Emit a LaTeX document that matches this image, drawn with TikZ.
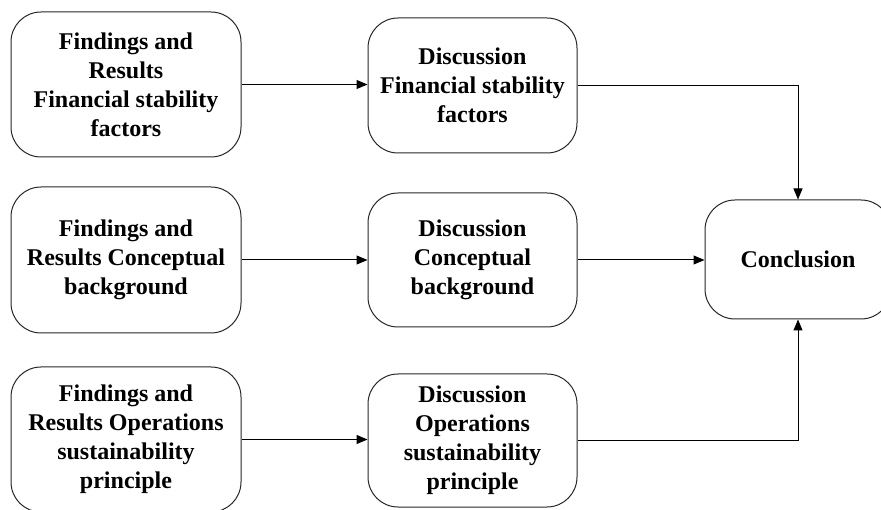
\documentclass[tikz,border=0pt]{standalone}
\usepackage{fontspec}
\setmainfont{Liberation Serif}
\usetikzlibrary{arrows.meta,calc}
\begin{document}
\begin{tikzpicture}[x=1pt,y=-1pt,
  box/.style={draw=black!85,line width=1pt,rounded corners=30pt,align=center,
    font=\fontsize{24}{29}\selectfont\bfseries,inner sep=0pt},
  conn/.style={draw=black,line width=1pt,-{Triangle[length=11pt,width=9pt]}}]
\useasboundingbox (0,0) rectangle (881,510);
\node[box,minimum width=230pt,minimum height=145pt] (L1) at (126,84.5) {Findings and\\Results\\Financial stability\\factors};
\node[box,minimum width=230pt,minimum height=146pt] (L2) at (126,260) {Findings and\\Results Conceptual\\background};
\node[box,minimum width=230pt,minimum height=145pt] (L3) at (126,439.5) {Findings and\\Results Operations\\sustainability\\principle};
\node[box,minimum width=209pt,minimum height=135pt] (M1) at (472.5,85.5) {Discussion\\Financial stability\\factors};
\node[box,minimum width=209pt,minimum height=134pt] (M2) at (472.5,260) {Discussion\\Conceptual\\background};
\node[box,minimum width=209pt,minimum height=133pt] (M3) at (472.5,440.5) {Discussion\\Operations\\sustainability\\principle};
\node[box,minimum width=186pt,minimum height=119pt] (C) at (798,259.5) {Conclusion};
\draw[conn] (L1.east) -- (L1.east -| M1.west);
\draw[conn] (L2.east) -- (L2.east -| M2.west);
\draw[conn] (L3.east) -- (L3.east -| M3.west);
\draw[conn] (M1.east) -| (C.north);
\draw[conn] (M2.east) -- (M2.east -| C.west);
\draw[conn] (M3.east) -| (C.south);
\end{tikzpicture}
\end{document}
